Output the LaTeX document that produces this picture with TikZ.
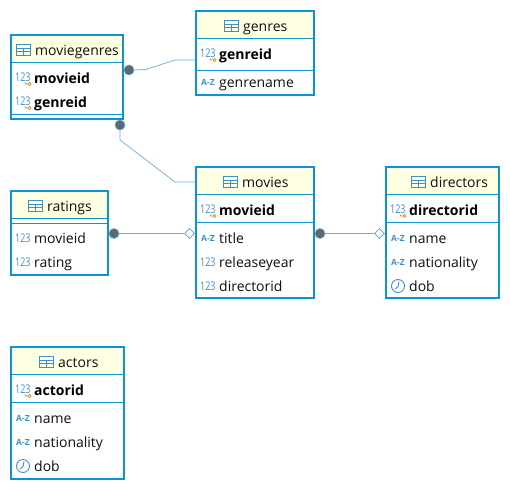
\documentclass[tikz,border=0pt]{standalone}
\usepackage{fontspec}
\setmainfont{Open Sans}
\usetikzlibrary{shapes.geometric}
\definecolor{bord}{HTML}{0C93D0}
\definecolor{head}{HTML}{FFFFE1}
\definecolor{ico}{HTML}{3F8FCB}
\definecolor{keyc}{HTML}{E8862A}
\definecolor{dotc}{HTML}{5E6870}
\definecolor{txt}{HTML}{101010}
\tikzset{
  x=1pt,y=-1pt,
  tablebox/.style={draw=bord,line width=2pt,fill=white,inner sep=0pt,outer sep=0pt},
  headbar/.style={fill=head},
  divline/.style={draw=bord,line width=1pt},
  titletext/.style={font=\fontsize{14}{15}\selectfont,text=txt,anchor=base west,inner sep=0pt},
  rowtext/.style={font=\fontsize{14}{15}\selectfont,text=txt,anchor=base west,inner sep=0pt},
  pktext/.style={rowtext,font=\fontsize{14}{15}\selectfont\bfseries,text=black},
  numicon/.style={font=\fontsize{12}{12}\selectfont,text=ico,anchor=base west,inner sep=0pt,transform shape,xscale=0.75},
  azicon/.style={font=\fontsize{8.5}{8}\selectfont\bfseries,text=ico,anchor=base west,inner sep=0pt},
  conn/.style={draw=ico!75!white,line width=0.7pt},
  fkdot/.style={circle,fill=dotc,draw=bord!70!white,line width=0.6pt,minimum size=10pt,inner sep=0pt},
  pkdiamond/.style={diamond,fill=white,draw=ico!85!white,line width=0.6pt,minimum size=10pt,inner sep=0pt},
}
% #1 name, #2 x1, #3 y1, #4 x2, #5 y2, #6 header bottom, #7 title, #8 title icon x
\newcommand{\tablebox}[8]{%
  \node[tablebox,minimum width={#4pt-#2pt},minimum height={#5pt-#3pt},anchor=north west] (#1) at (#2,#3) {};
  \fill[headbar] (#2+1,#3+1) rectangle (#4-1,#6);
  \draw[divline] (#2,#6) -- (#4,#6);
  \draw[ico,line width=0.9pt] (#8,#3+15-6) rectangle (#8+14,#3+15+5);
  \draw[ico,line width=0.8pt] (#8,#3+15-2) -- (#8+14,#3+15-2) (#8,#3+15+1.5) -- (#8+14,#3+15+1.5) (#8+7,#3+15-2) -- (#8+7,#3+15+5);
  \node[titletext] (#1title) at (#8+19,#3+20) {#7};
}
% #1 name, #2 table left x, #3 row centre y, #4 text
\newcommand{\numrow}[4]{\node[numicon] (#1i) at (#2+4,#3+4) {123};\node[rowtext] (#1) at (#2+23,#3+5) {#4};}
\newcommand{\pkrow}[4]{\node[numicon] (#1i) at (#2+4,#3+3) {123};
  \draw[keyc,line width=0.8pt] (#2+18.5,#3+6) circle (1.6) (#2+16.9,#3+6) -- (#2+13.5,#3+6) (#2+14.5,#3+6) -- (#2+14.5,#3+4.5);
  \node[pktext] (#1) at (#2+23,#3+5) {#4};}
\newcommand{\azrow}[4]{\node[azicon] (#1i) at (#2+5,#3+3) {A-Z};\node[rowtext] (#1) at (#2+23,#3+5) {#4};}
\newcommand{\clockrow}[4]{\draw[ico,line width=0.9pt] (#2+12,#3) circle (6.5) (#2+12,#3+0.5) -- (#2+13,#3-4.5) (#2+12,#3+0.5) -- (#2+9,#3+3);
  \node[rowtext] (#1) at (#2+23,#3+5) {#4};}
\newcommand{\hdiv}[3]{\draw[divline] (#1,#3) -- (#2,#3);}
\begin{document}
\begin{tikzpicture}
\useasboundingbox (0,0) rectangle (510,490);
\fill[white] (0,0) rectangle (510,490);

\node[fkdot] (d1) at (129,70) {};
\node[fkdot] (d2) at (120,125) {};
\node[fkdot] (d3) at (114,233.5) {};
\node[pkdiamond] (p3) at (189.5,233.5) {};
\node[fkdot] (d4) at (320,233.5) {};
\node[pkdiamond] (p4) at (379.5,233.5) {};
\coordinate (g1) at (146,69.5);
\coordinate (g2) at (175,60);
\coordinate (g3) at (196,60);
\coordinate (m1) at (120,140);
\coordinate (m2) at (175,182);
\coordinate (m3) at (196,182);
\coordinate (r1) at (196,233.5);
\coordinate (r2) at (386,233.5);
\draw[conn] (d1) -- (g1) -- (g2) -- (g3);
\draw[conn] (d2) -- (m1) -- (m2) -- (m3);
\draw[conn] (d3) -- (p3) -- (r1);
\draw[conn] (d4) -- (p4) -- (r2);

\tablebox{moviegenres}{11}{35}{123}{119}{62}{moviegenres}{16}
\pkrow{mgmovieid}{11}{78}{movieid}
\pkrow{mggenreid}{11}{102}{genreid}
\hdiv{11}{123}{114}

\tablebox{genres}{196}{11}{314}{95}{38}{genres}{224}
\pkrow{ggenreid}{196}{54}{genreid}
\hdiv{196}{314}{70}
\azrow{ggenrename}{196}{82}{genrename}

\tablebox{movies}{196}{167}{314}{298}{194}{movies}{223}
\pkrow{mmovieid}{196}{210}{movieid}
\hdiv{196}{314}{222}
\azrow{mtitle}{196}{238}{title}
\numrow{myear}{196}{262}{releaseyear}
\numrow{mdir}{196}{286}{directorid}

\tablebox{directors}{386}{167}{499}{298}{194}{directors}{411}
\pkrow{ddir}{386}{210}{directorid}
\hdiv{386}{499}{222}
\azrow{dname}{386}{238}{name}
\azrow{dnat}{386}{262}{nationality}
\clockrow{ddob}{386}{286}{dob}

\tablebox{ratings}{11}{191}{108}{275}{218}{ratings}{28}
\hdiv{11}{108}{223}
\numrow{rmovie}{11}{238}{movieid}
\numrow{rrating}{11}{262}{rating}

\tablebox{actors}{11}{347}{124}{479}{374}{actors}{39}
\pkrow{aid}{11}{390}{actorid}
\hdiv{11}{124}{402}
\azrow{aname}{11}{418}{name}
\azrow{anat}{11}{442}{nationality}
\clockrow{adob}{11}{466}{dob}
\end{tikzpicture}
\end{document}
